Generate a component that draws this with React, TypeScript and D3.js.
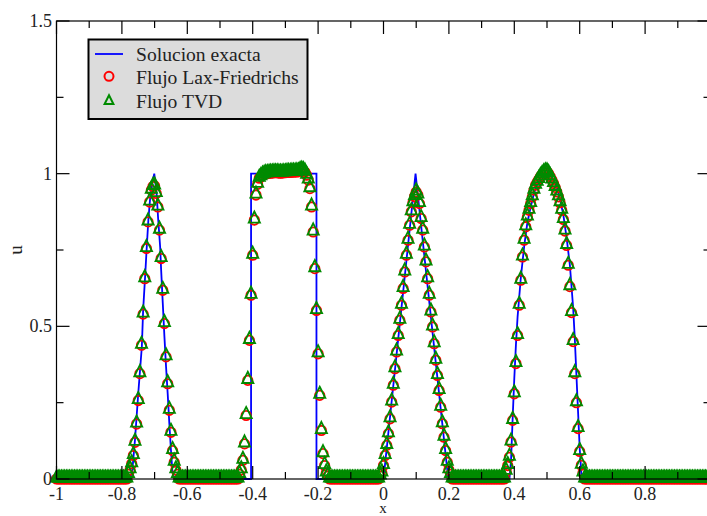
import React from "react";
import * as d3 from "d3";

// ---------- data ----------
const DX = 0.005; // grid spacing of the numerical solutions

// exact solution (blue polyline)
const exactX = [
  -1, -0.775, -0.768, -0.76, -0.75, -0.739, -0.735, -0.729, -0.724, -0.719, -0.714, -0.707, -0.701,
  -0.694, -0.689, -0.683, -0.68, -0.675, -0.67, -0.665, -0.66, -0.655, -0.65, -0.646, -0.64,
  -0.405, -0.405, -0.205, -0.205,
  0, 0.098, 0.198,
  0.385, 0.39, 0.395, 0.4, 0.405, 0.41, 0.42, 0.43, 0.44, 0.45, 0.46, 0.47, 0.48, 0.49, 0.5,
  0.51, 0.52, 0.53, 0.54, 0.55, 0.56, 0.57, 0.58, 0.585, 0.59, 0.595, 0.6, 0.605, 0.607,
  1,
];
const exactY = [
  0, 0, 0.03, 0.128, 0.28, 0.434, 0.554, 0.663, 0.76, 0.85, 0.915, 0.97, 1.0,
  0.937, 0.85, 0.76, 0.685, 0.576, 0.467, 0.368, 0.28, 0.183, 0.095, 0.03, 0,
  0, 1, 1, 0,
  0, 1.0, 0,
  0, 0.06, 0.2, 0.33, 0.44, 0.53, 0.66, 0.76, 0.84, 0.89, 0.935, 0.965, 0.985, 0.997, 1.0,
  0.995, 0.98, 0.955, 0.915, 0.865, 0.79, 0.7, 0.56, 0.46, 0.34, 0.22, 0.1, 0.02, 0,
  0,
];

// numerical solutions: non-zero windows on the grid (start x, values); 0 elsewhere
const gaussStart = -0.78;
const gaussU = [
  0.015, 0.03, 0.05, 0.077, 0.12, 0.18, 0.257, 0.345, 0.438, 0.54, 0.656, 0.755, 0.842, 0.907, 0.946,
  0.958, 0.96, 0.935, 0.891, 0.815, 0.722, 0.618, 0.509, 0.4, 0.312, 0.225, 0.153, 0.093, 0.055, 0.03, 0.015,
];
const squareStart = -0.44;
const squareU = [
  0.015, 0.03, 0.061, 0.115, 0.208, 0.323, 0.454, 0.602, 0.733, 0.848, 0.93, 0.965, 0.985,
  0.99, 0.995, 0.998, 1.0,
  1.0, 1.001, 1.002, 1.002, 1.003, 1.003, 1.003, 1.002, 1.002, 1.002, 1.003, 1.003, 1.004, 1.004, 1.004, 1.005, 1.005, 1.005, 1.006,
  1.006, 1.01, 1.012, 1.01, 1.005, 0.995,
  0.979, 0.951, 0.891, 0.809, 0.689, 0.552, 0.41, 0.274, 0.159, 0.083, 0.044, 0.02, 0.01,
];
const triangleStart = -0.01;
const triangleU = [
  0.01, 0.02, 0.044, 0.077, 0.11, 0.148, 0.197, 0.252, 0.307, 0.361, 0.416, 0.47, 0.52, 0.569, 0.624,
  0.678, 0.733, 0.782, 0.831, 0.875, 0.905, 0.925, 0.94, 0.93, 0.902, 0.853, 0.815, 0.76, 0.711, 0.656,
  0.602, 0.547, 0.498, 0.443, 0.389, 0.339, 0.29, 0.235, 0.181, 0.137, 0.093, 0.055, 0.03, 0.015,
];
const ellipseStart = 0.375;
const ellipseU = [
  0.025, 0.044, 0.071, 0.121, 0.192, 0.279, 0.378, 0.47, 0.569, 0.651, 0.727, 0.782, 0.826, 0.858, 0.88,
  0.902, 0.924, 0.946, 0.962, 0.972, 0.981, 0.99, 0.997, 1.003, 1.006, 1.006, 1.0, 0.99, 0.979, 0.968,
  0.955, 0.94, 0.924, 0.905, 0.88, 0.85, 0.812, 0.765, 0.7, 0.63, 0.545, 0.45, 0.345, 0.25, 0.165, 0.09,
  0.045, 0.02,
];

const xTickLabels = ["-1", "-0.8", "-0.6", "-0.4", "-0.2", "0", "0.2", "0.4", "0.6", "0.8"];
const xMajorTicks = [-1, -0.8, -0.6, -0.4, -0.2, 0, 0.2, 0.4, 0.6, 0.8, 1];
const xMinorTicks = [-0.9, -0.7, -0.5, -0.3, -0.1, 0.1, 0.3, 0.5, 0.7, 0.9];
const yMajorTicks = [0, 0.5, 1, 1.5];
const yTickLabels = ["0", "0.5", "1", "1.5"];
const yMinorTicks = [0.25, 0.75, 1.25];
const legendLabels = ["Solucion exacta", "Flujo Lax-Friedrichs", "Flujo TVD"];

// ---------- layout ----------
const W = 707;
const H = 516;
const FONT = "'Liberation Serif', 'Times New Roman', serif";
const BLUE = "#0000ff";
const RED = "#ff0000";
const GREEN = "#008b00";

const x = d3.scaleLinear().domain([-1, 1]).range([56.5, 710.5]);
const y = d3.scaleLinear().domain([0, 1.5]).range([479, 21]);

const windows = [
  { start: gaussStart, values: gaussU },
  { start: squareStart, values: squareU },
  { start: triangleStart, values: triangleU },
  { start: ellipseStart, values: ellipseU },
];

const gridX = d3.range(0, Math.round(2 / DX) + 1).map((i) => +(-1 + i * DX).toFixed(4));

function numericalSeries() {
  return gridX.map((gx) => {
    for (const w of windows) {
      const idx = Math.round((gx - w.start) / DX);
      if (idx >= 0 && idx < w.values.length) return [gx, w.values[idx]];
    }
    return [gx, 0];
  });
}

const lfSeries = numericalSeries();
const tvdSeries = numericalSeries();

const triPath = (s: number) =>
  `M0,${-8.6 * s}L${5.6 * s},${2.6 * s}L${-5.6 * s},${2.6 * s}Z`;

export default function App() {
  const line = d3
    .line<number>()
    .x((_, i) => x(exactX[i]))
    .y((_, i) => y(exactY[i]));
  const exactPath = line(exactY) || "";

  const x0 = x(-1), x1 = x(1), y0 = y(0), y1 = y(1.5);

  return (
    <svg
      width={W}
      height={H}
      style={{ position: "absolute", left: 0, top: 0, background: "#fff" }}
      fontFamily={FONT}
    >
      <rect x={0} y={0} width={W} height={H} fill="#fff" />
      {/* exact solution */}
      <path d={exactPath} fill="none" stroke={BLUE} strokeWidth={1.8} />
      {/* Lax-Friedrichs */}
      <g>
        {lfSeries.map(([px, pu], i) => (
          <circle key={i} cx={x(px)} cy={y(pu)} r={4.7} fill="none" stroke={RED} strokeWidth={1.8} />
        ))}
      </g>
      {/* TVD */}
      <g>
        {tvdSeries.map(([px, pu], i) => (
          <path
            key={i}
            d={triPath(1)}
            transform={`translate(${x(px)},${y(pu)})`}
            fill="none"
            stroke={GREEN}
            strokeWidth={1.8}
          />
        ))}
      </g>

      {/* frame */}
      <rect x={x0} y={y1} width={x1 - x0} height={y0 - y1} fill="none" stroke="#000" strokeWidth={1.2} />
      {/* ticks */}
      <g stroke="#000" strokeWidth={1.2}>
        {xMajorTicks.map((t) => (
          <g key={"xM" + t}>
            <line x1={x(t)} x2={x(t)} y1={y0} y2={y0 - 13} />
            <line x1={x(t)} x2={x(t)} y1={y1} y2={y1 + 13} />
          </g>
        ))}
        {xMinorTicks.map((t) => (
          <g key={"xm" + t}>
            <line x1={x(t)} x2={x(t)} y1={y0} y2={y0 - 7} />
            <line x1={x(t)} x2={x(t)} y1={y1} y2={y1 + 7} />
          </g>
        ))}
        {yMajorTicks.map((t) => (
          <g key={"yM" + t}>
            <line x1={x0} x2={x0 + 13} y1={y(t)} y2={y(t)} />
            <line x1={x1} x2={x1 - 13} y1={y(t)} y2={y(t)} />
          </g>
        ))}
        {yMinorTicks.map((t) => (
          <g key={"ym" + t}>
            <line x1={x0} x2={x0 + 7} y1={y(t)} y2={y(t)} />
            <line x1={x1} x2={x1 - 7} y1={y(t)} y2={y(t)} />
          </g>
        ))}
      </g>
      {/* tick labels */}
      <g fontSize={18} fill="#222">
        {xTickLabels.map((lab) => (
          <text key={"xl" + lab} x={x(+lab)} y={500} textAnchor="middle">
            {lab}
          </text>
        ))}
        {yTickLabels.map((lab) => (
          <text key={"yl" + lab} x={52} y={y(+lab) + 6} textAnchor="end">
            {lab}
          </text>
        ))}
      </g>
      {/* axis titles */}
      <text x={383} y={512.5} fontSize={15} textAnchor="middle" fill="#222">
        x
      </text>
      <text
        x={0}
        y={0}
        fontSize={19}
        textAnchor="middle"
        fill="#222"
        transform={`translate(21.5,250) rotate(-90)`}
      >
        u
      </text>

      {/* legend */}
      <rect x={88.5} y={39.5} width={219} height={79.5} fill="#dcdcdc" stroke="#000" strokeWidth={2} />
      <line x1={95} x2={123} y1={54} y2={54} stroke={BLUE} strokeWidth={1.8} />
      <circle cx={109} cy={76.3} r={4.5} fill="none" stroke={RED} strokeWidth={2} />
      <path
        d={`M0,-6.3L4.4,2.6L-4.4,2.6Z`}
        transform="translate(109,101.5)"
        fill="none"
        stroke={GREEN}
        strokeWidth={2}
      />
      <g fontSize={19.6} fill="#222">
        {legendLabels.map((lab, i) => (
          <text key={lab} x={136} y={60.5 + i * 23.5}>
            {lab}
          </text>
        ))}
      </g>
    </svg>
  );
}
